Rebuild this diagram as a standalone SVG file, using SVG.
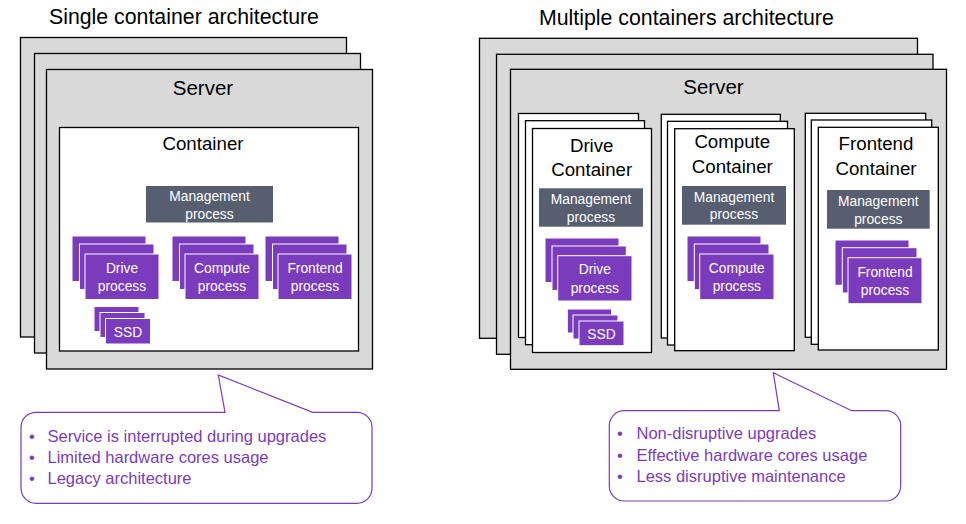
<svg xmlns="http://www.w3.org/2000/svg" width="966" height="524" viewBox="0 0 966 524">
<style>
text{font-family:"Liberation Sans",Arial,sans-serif}
.title{font-size:21.3px;fill:#000}
.srv{fill:#d9d9d9;stroke:#000;stroke-width:1.3}
.cont{fill:#fff;stroke:#000;stroke-width:1.3}
.h1{font-size:20.5px;fill:#000;text-anchor:middle}
.h2{font-size:18.7px;fill:#000;text-anchor:middle}
.mgmt{fill:#575e70}
.proc{fill:#7a3bbd;stroke:#fff;stroke-width:1}
.wl{font-size:13.8px;fill:#fff;text-anchor:middle}
.call{fill:#fff;stroke:#7a3bbd;stroke-width:1.2}
.ct{font-size:16.5px;fill:#7a3bbd}
</style>
<rect width="966" height="524" fill="#fff"/>

<g id="left">
<text class="title" x="49" y="24">Single container architecture</text>
<g id="left-server">
<rect class="srv" x="20.5" y="37.5" width="326" height="299.5"/>
<rect class="srv" x="34.5" y="53.5" width="326" height="299.5"/>
<rect class="srv" x="46.5" y="69.5" width="326" height="299.5"/>
<text class="h1" x="203" y="95">Server</text>
</g>
<g id="left-container">
<rect class="cont" x="59.5" y="127.5" width="299" height="223.5"/>
<text class="h2" x="203" y="150">Container</text>
</g>
<g id="left-mgmt">
<rect class="mgmt" x="146" y="186" width="127" height="36.5"/>
<text class="wl" x="209.5" y="200.5">Management</text>
<text class="wl" x="209.5" y="218.5">process</text>
</g>
<g id="left-drive">
<rect class="proc" x="72" y="236" width="74" height="45.5"/>
<rect class="proc" x="79.5" y="244" width="74.5" height="45.5"/>
<rect class="proc" x="85" y="254" width="74" height="45.5"/>
<text class="wl" x="122" y="273">Drive</text>
<text class="wl" x="122" y="291">process</text>
</g>
<g id="left-compute">
<rect class="proc" x="172" y="236" width="74" height="45.5"/>
<rect class="proc" x="179.5" y="244" width="74.5" height="45.5"/>
<rect class="proc" x="185" y="254" width="74" height="45.5"/>
<text class="wl" x="222" y="273">Compute</text>
<text class="wl" x="222" y="291">process</text>
</g>
<g id="left-frontend">
<rect class="proc" x="265" y="236" width="74" height="45.5"/>
<rect class="proc" x="272.5" y="244" width="74.5" height="45.5"/>
<rect class="proc" x="278" y="254" width="74" height="45.5"/>
<text class="wl" x="315" y="273">Frontend</text>
<text class="wl" x="315" y="291">process</text>
</g>
<g id="left-ssd">
<rect class="proc" x="94" y="306.5" width="45" height="25"/>
<rect class="proc" x="100" y="312.5" width="45" height="25"/>
<rect class="proc" x="105.5" y="318.5" width="45" height="25.5"/>
<text class="wl" x="128" y="336.5">SSD</text>
</g>
<g id="left-callout">
<path class="call" d="M36,412.3 H225 L218.3,375 L312.7,412.3 H357 A15,15 0 0 1 372,427.3 V488.3 A15,15 0 0 1 357,503.3 H36 A15,15 0 0 1 21,488.3 V427.3 A15,15 0 0 1 36,412.3 Z"/>
<text class="ct" x="29" y="441.5">•</text>
<text class="ct" x="47.5" y="441.5">Service is interrupted during upgrades</text>
<text class="ct" x="29" y="463.3">•</text>
<text class="ct" x="47.5" y="463.3">Limited hardware cores usage</text>
<text class="ct" x="29" y="484.3">•</text>
<text class="ct" x="47.5" y="484.3">Legacy architecture</text>
</g>
</g>

<g id="right">
<text class="title" x="539" y="25">Multiple containers architecture</text>
<g id="right-server">
<rect class="srv" x="479.5" y="38.3" width="438" height="300"/>
<rect class="srv" x="496.5" y="54.3" width="436.5" height="300"/>
<rect class="srv" x="510.5" y="69.3" width="436" height="300"/>
<text class="h1" x="713.5" y="94.3">Server</text>
</g>
<g id="drive-container">
<rect class="cont" x="518.5" y="113.5" width="120" height="224"/>
<rect class="cont" x="525.5" y="120.7" width="119" height="224"/>
<rect class="cont" x="532.5" y="128.5" width="119" height="224"/>
<text class="h2" x="591.7" y="151.7">Drive</text>
<text class="h2" x="591.7" y="176">Container</text>
<rect class="mgmt" x="539" y="188.3" width="104" height="38.4"/>
<text class="wl" x="591" y="204.3">Management</text>
<text class="wl" x="591" y="221.7">process</text>
<rect class="proc" x="545" y="238" width="74" height="44.5"/>
<rect class="proc" x="552" y="246" width="74.3" height="44.5"/>
<rect class="proc" x="557.7" y="255.7" width="74.3" height="45.3"/>
<text class="wl" x="594.8" y="274">Drive</text>
<text class="wl" x="594.8" y="292.7">process</text>
<rect class="proc" x="567.3" y="309" width="44.4" height="24"/>
<rect class="proc" x="573" y="315" width="45" height="24"/>
<rect class="proc" x="579" y="321" width="45" height="24.7"/>
<text class="wl" x="601.5" y="339.3">SSD</text>
</g>
<g id="compute-container">
<rect class="cont" x="661.3" y="114.3" width="119" height="223.7"/>
<rect class="cont" x="667.5" y="121.3" width="120" height="223.7"/>
<rect class="cont" x="674.7" y="128.7" width="119.6" height="222"/>
<text class="h2" x="732.3" y="148.3">Compute</text>
<text class="h2" x="732.3" y="173.3">Container</text>
<rect class="mgmt" x="682" y="186" width="104" height="38.7"/>
<text class="wl" x="734" y="201.7">Management</text>
<text class="wl" x="734" y="219.3">process</text>
<rect class="proc" x="687" y="236" width="74" height="45.7"/>
<rect class="proc" x="694.3" y="244" width="74.7" height="45.7"/>
<rect class="proc" x="699.7" y="254" width="74.3" height="45.7"/>
<text class="wl" x="736.8" y="272.7">Compute</text>
<text class="wl" x="736.8" y="290.7">process</text>
</g>
<g id="frontend-container">
<rect class="cont" x="805.3" y="113.3" width="120.4" height="224"/>
<rect class="cont" x="811.3" y="120" width="120.4" height="224.3"/>
<rect class="cont" x="818.3" y="127.3" width="120" height="222.7"/>
<text class="h2" x="876" y="150">Frontend</text>
<text class="h2" x="876" y="175">Container</text>
<rect class="mgmt" x="827" y="190" width="102.7" height="38.7"/>
<text class="wl" x="878.3" y="206">Management</text>
<text class="wl" x="878.3" y="224">process</text>
<rect class="proc" x="835" y="240" width="74" height="45.3"/>
<rect class="proc" x="842.3" y="247.7" width="74.7" height="45.3"/>
<rect class="proc" x="848" y="257.7" width="74" height="46"/>
<text class="wl" x="885" y="276.7">Frontend</text>
<text class="wl" x="885" y="295">process</text>
</g>
<g id="right-callout">
<path class="call" d="M624.3,410.7 H779.3 L773.3,372.7 L851.7,410.7 H885.7 A15,15 0 0 1 900.7,425.7 V486 A15,15 0 0 1 885.7,501 H624.3 A15,15 0 0 1 609.3,486 V425.7 A15,15 0 0 1 624.3,410.7 Z"/>
<text class="ct" x="617" y="439">•</text>
<text class="ct" x="636.5" y="439">Non-disruptive upgrades</text>
<text class="ct" x="617" y="460.7">•</text>
<text class="ct" x="636.5" y="460.7">Effective hardware cores usage</text>
<text class="ct" x="617" y="481.7">•</text>
<text class="ct" x="636.5" y="481.7">Less disruptive maintenance</text>
</g>
</g>
</svg>
